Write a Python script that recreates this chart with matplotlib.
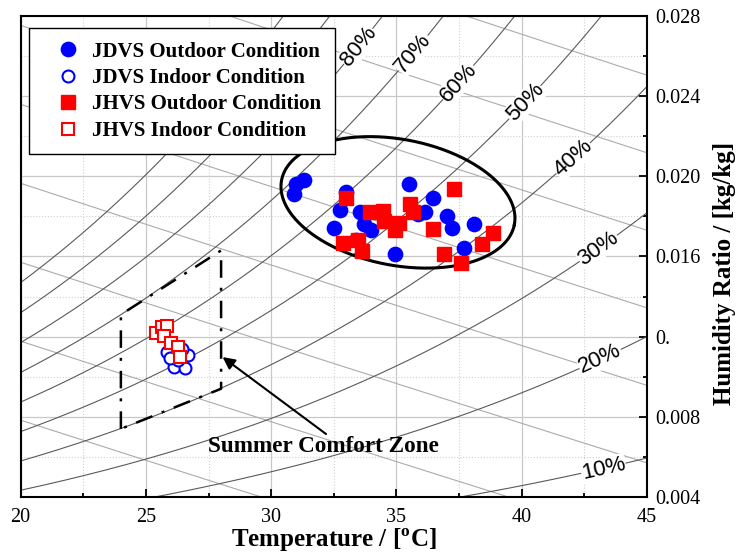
import numpy as np
import matplotlib
matplotlib.use("Agg")
import matplotlib.pyplot as plt
from matplotlib.ticker import MultipleLocator

plt.rcParams["font.family"] = ["Liberation Serif", "DejaVu Serif"]
plt.rcParams["mathtext.fontset"] = "custom"
plt.rcParams["mathtext.rm"] = "Liberation Serif"
plt.rcParams["mathtext.bf"] = "Liberation Serif:bold"

# ---------------- data ----------------
jdvs_out_t = [31.3, 31.0, 30.9, 33.0, 32.75, 33.55, 32.5, 33.7, 34.0, 33.4,
              34.95, 35.5, 36.45, 36.15, 35.85, 37.0, 37.2, 38.1, 37.7]
jdvs_out_w = [0.0198, 0.0196, 0.0191, 0.0192, 0.0183, 0.0182, 0.0174, 0.0176,
              0.0173, 0.0168, 0.0161, 0.0196, 0.0189, 0.0182, 0.0181, 0.0180,
              0.0174, 0.0176, 0.0164]

jdvs_in_t = [25.84, 26.69, 26.12, 26.55, 26.28, 25.96, 26.44]
jdvs_in_w = [0.01123, 0.01107, 0.01050, 0.01042, 0.01083, 0.01093, 0.01138]

jhvs_out_t = [32.97, 33.94, 34.45, 34.5, 35.1, 34.94, 32.88, 33.48, 33.61,
              35.55, 35.67, 37.3, 36.45, 36.91, 37.58, 38.43, 38.87]
jhvs_out_w = [0.0189, 0.01824, 0.01827, 0.01777, 0.01766, 0.01732, 0.01666,
              0.01682, 0.01627, 0.01862, 0.01823, 0.01937, 0.01737, 0.01611,
              0.01569, 0.01662, 0.01716]

jhvs_in_t = [25.40, 25.63, 25.83, 25.72, 25.99, 26.29, 26.36]
jhvs_in_w = [0.01217, 0.01250, 0.01255, 0.01203, 0.01167, 0.01150, 0.01100]

series_names = ["JDVS Outdoor Condition", "JDVS Indoor Condition",
                "JHVS Outdoor Condition", "JHVS Indoor Condition"]

rh_levels = [10, 20, 30, 40, 50, 60, 70, 80, 90, 100]
rh_label_levels = [10, 20, 30, 40, 50, 60, 70, 80]
rh_label_temps = [43.26, 43.13, 43.06, 42.06, 40.13, 37.47, 35.67, 33.48]
enthalpy_levels = [40, 50, 60, 70, 80, 90, 100, 110]

# summer comfort zone (temperature, humidity ratio)
zone_t = [24, 24, 28, 28, 24]
zone_w = [0.0074, 0.0131, 0.0163, 0.0094, 0.0074]

x_ticks = [20, 25, 30, 35, 40, 45]
y_ticks = [0.004, 0.008, 0.012, 0.016, 0.020, 0.024, 0.028]
y_tick_labels = ["0.004", "0.008", "0.", "0.016", "0.020", "0.024", "0.028"]

P_ATM = 101.325  # kPa


def p_sat(t):
    """Saturation pressure of water over liquid (kPa), Hyland-Wexler."""
    T = np.asarray(t, dtype=float) + 273.15
    ln_p = (-5.8002206e3 / T + 1.3914993 - 4.8640239e-2 * T
            + 4.1764768e-5 * T ** 2 - 1.4452093e-8 * T ** 3
            + 6.5459673 * np.log(T))
    return np.exp(ln_p) / 1000.0


def w_rh(t, rh):
    pv = rh / 100.0 * p_sat(t)
    return 0.622 * pv / (P_ATM - pv)


def w_h(t, h):
    t = np.asarray(t, dtype=float)
    return (h - 1.006 * t) / (2501.0 + 1.86 * t)


fig = plt.figure(figsize=(7.38, 5.53), dpi=100)
ax = fig.add_axes([0.0280, 0.1013, 0.8487, 0.8698])
ax.set_xlim(20, 45)
ax.set_ylim(0.004, 0.028)

# ---------------- axes styling ----------------
ax.set_xticks(x_ticks)
ax.xaxis.set_minor_locator(MultipleLocator(2.5))
ax.yaxis.tick_right()
ax.set_yticks(y_ticks)
ax.set_yticklabels(y_tick_labels)
ax.yaxis.set_minor_locator(MultipleLocator(0.002))
ax.tick_params(which="both", direction="in", top=False, left=False,
               right=True, bottom=True, width=1.3, colors="black")
ax.tick_params(which="major", length=6)
ax.tick_params(which="minor", length=3)
ax.tick_params(axis="x", which="major", pad=8, labelsize=14.5)
ax.tick_params(axis="y", which="major", pad=6, labelsize=14.5)
ax.grid(which="major", color="#c8c8c8", lw=0.9, ls="-")
ax.grid(which="minor", color="#cfcfcf", lw=0.8, ls=":")
ax.set_axisbelow(True)
for s in ax.spines.values():
    s.set_linewidth(1.5)

# ---------------- psychrometric lines ----------------
tt = np.linspace(20, 45, 400)
for h in enthalpy_levels:
    ax.plot(tt, w_h(tt, h), color="#ababab", lw=0.8, zorder=1.4)
for rh in rh_levels:
    ax.plot(tt, w_rh(tt, rh), color="#5a5a5a", lw=0.8, zorder=1.5)

for rh, t0 in zip(rh_label_levels, rh_label_temps):
    w0 = float(w_rh(t0, rh))
    p1 = ax.transData.transform((t0 - 0.2, float(w_rh(t0 - 0.2, rh))))
    p2 = ax.transData.transform((t0 + 0.2, float(w_rh(t0 + 0.2, rh))))
    ang = np.degrees(np.arctan2(p2[1] - p1[1], p2[0] - p1[0]))
    ax.text(t0, w0, f"{rh}%", rotation=ang, rotation_mode="anchor",
            ha="center", va="center", fontsize=16,
            family=["Liberation Sans", "DejaVu Sans"], color="black",
            zorder=1.8,
            bbox=dict(facecolor="white", edgecolor="none", pad=0.3))

# ---------------- comfort zone ----------------
ax.plot(zone_t, zone_w, color="black", lw=1.8, ls=(0, (7, 4, 1.2, 4)),
        zorder=2)
ax.annotate("", xy=(28.06, 0.01098), xytext=(32.19, 0.00714),
            arrowprops=dict(arrowstyle="-|>", color="black", lw=1.5,
                            mutation_scale=18, shrinkA=0, shrinkB=0),
            zorder=3)
ax.text(32.1, 0.00652, "Summer Comfort Zone", ha="center", va="center",
        fontsize=16.7, fontweight="bold", zorder=3)

# ---------------- outdoor ellipse ----------------
bb = ax.get_window_extent()
px_per_t = bb.width / 25.0
px_per_w = bb.height / 0.024
ecx, ecy = 35.06, 0.01870
ea, eb, eang = 118.5, 63.0, np.radians(-10.8)  # semi-axes in pixels
s = np.linspace(0, 2 * np.pi, 400)
dx = ea * np.cos(s) * np.cos(eang) - eb * np.sin(s) * np.sin(eang)
dy = ea * np.cos(s) * np.sin(eang) + eb * np.sin(s) * np.cos(eang)
ax.plot(ecx + dx / px_per_t, ecy + dy / px_per_w, color="black", lw=2.2,
        zorder=2)

# ---------------- measurement points ----------------
ax.plot(jdvs_out_t, jdvs_out_w, "o", color="blue", ms=10.3, mec="blue",
        ls="none", label=series_names[0], zorder=4)
ax.plot(jdvs_in_t, jdvs_in_w, "o", mfc="white", mec="blue", mew=1.5,
        ms=8.6, ls="none", label=series_names[1], zorder=4)
ax.plot(jhvs_out_t, jhvs_out_w, "s", color="red", ms=9.5, mec="red",
        ls="none", label=series_names[2], zorder=5)
ax.plot(jhvs_in_t, jhvs_in_w, "s", mfc="white", mec="red", mew=1.5,
        ms=8.6, ls="none", label=series_names[3], zorder=5)

leg = ax.legend(loc="upper left", bbox_to_anchor=(0.0133, 0.975),
                borderaxespad=0, frameon=True, fancybox=False,
                edgecolor="black", framealpha=1,
                prop=dict(weight="bold", size=15), borderpad=0.65,
                handlelength=2.45, handletextpad=-0.07, labelspacing=0.31)
leg.get_frame().set_linewidth(1.0)
leg.set_zorder(10)

# ---------------- axis titles ----------------
fig.text(333.5 / 738, 1 - 546.7 / 553, r"Temperature / [$^{\mathbf{o}}$C]",
         ha="center", va="baseline", fontsize=18, fontweight="bold")
fig.text(724 / 738, 1 - 273 / 553, "Humidity Ratio / [kg/kg]",
         ha="center", va="center", rotation=90, fontsize=18,
         fontweight="bold")

fig.savefig("out.png", dpi=100)
